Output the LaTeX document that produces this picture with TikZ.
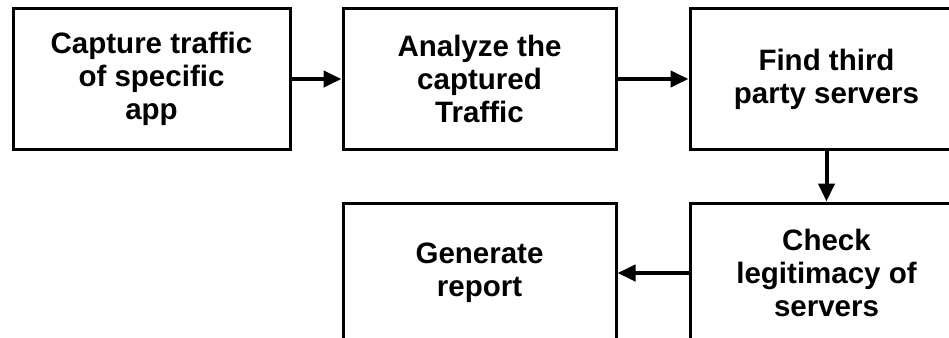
\documentclass[tikz,border=0pt]{standalone}
\usepackage{fontspec}
\setmainfont{Liberation Sans}
\usetikzlibrary{positioning, arrows.meta}

\begin{document}
\begin{tikzpicture}[x=1pt, y=1pt,
		stage/.style={draw, rectangle, line width=3pt, minimum width=273pt, minimum height=140pt, align=center, font=\fontsize{29.5}{33}\selectfont\bfseries},
		flow/.style={line width=4pt, -{Triangle[length=18pt, width=16pt]}}]
				\useasboundingbox (0,0) rectangle (949,-337);
				\node[stage, minimum width=277pt] (capture) at (151.5,-79) {Capture traffic\\of specific\\app};
				\node[stage, right=50pt of capture] (analyze) {Analyze the\\captured\\Traffic};
				\node[stage, right=71pt of analyze] (third) {Find third\\party servers};
				\node[stage, below=51pt of third] (check) {Check\\legitimacy of\\servers};
				\node[stage, below=51pt of analyze] (report) {Generate\\report};
				
				\draw[flow] (capture) -- (analyze);
				\draw[flow] (analyze) -- (third);
				\draw[flow] (third) -- (check);
				\draw[flow] (check) -- (report);
			\end{tikzpicture}
\end{document}
